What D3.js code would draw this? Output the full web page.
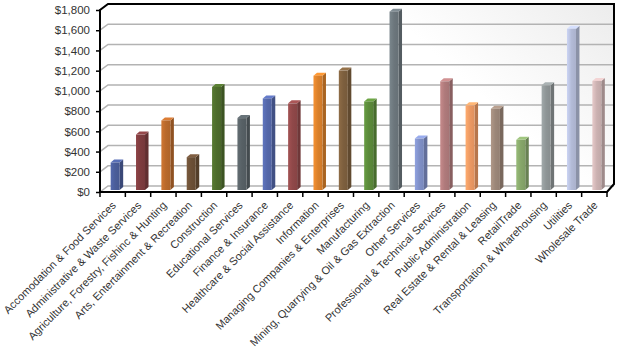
<!DOCTYPE html>
<html><head><meta charset="utf-8">
<script src="https://cdnjs.cloudflare.com/ajax/libs/d3/7.8.5/d3.min.js"></script>
<style>html,body{margin:0;padding:0;background:#fff;}svg{display:block;}</style>
</head><body>
<svg id="c" width="620" height="357"></svg>
<script>
const categories = ["Accomodation & Food Services","Administrative & Waste Services","Agriculture, Forestry, Fishinc & Hunting","Arts, Entertainment & Recreation","Construction","Educational Services","Finance & Insurance","Healthcare & Social Assistance","Information","Managing Companies & Enterprises","Manufacturing","Mining, Quarrying & Oil & Gas Extraction","Other Services","Professional & Technical Services","Public Administration","Real Estate & Rental & Leasing","RetailTrade","Transportation & Wharehousing","Utilities","Wholesale Trade"];
const values = [272, 548, 688, 325, 1019, 711, 906, 857, 1131, 1181, 876, 1764, 509, 1075, 837, 804, 496, 1035, 1595, 1079];
const colors = ["#4a5d99","#7d3b3e","#b8692c","#6b4f36","#4d6c2c","#576065","#5467a9","#8f4849","#d9802b","#7d5f3e","#5b8a3a","#6c767c","#7f8fc6","#af7a7b","#eb9862","#9b8678","#86a66a","#8e9596","#b3bbd7","#cbb1b1"];
const yTicks = [0,200,400,600,800,1000,1200,1400,1600,1800];

const svg = d3.select("#c");
const x0 = 100, x1 = 607, yB = 192, yT = 10;
const dX = 8, dY = -6;       // back wall offset
const bX = 2.5, bY = -2;     // bar depth offset
const x = d3.scaleBand().domain(categories).range([x0, x1]).padding(0);
const y = d3.scaleLinear().domain([0,1800]).range([yB, yT]);

const defs = svg.append("defs");
const wg = defs.append("linearGradient").attr("id","wall").attr("x1","0").attr("x2","1").attr("y1","0.4").attr("y2","0");
wg.append("stop").attr("offset","0.6").attr("stop-color","#ffffff");
wg.append("stop").attr("offset","1").attr("stop-color","#ececec");

svg.append("rect").attr("x", x0+dX).attr("y", y(1800)+dY).attr("width", 614-(x0+dX)).attr("height", y(0)-y(1800)).attr("fill","url(#wall)");

const grid = svg.append("g");
yTicks.slice(0,-1).forEach(v => {
  grid.append("path").attr("d", `M${x0},${y(v)}L${x0+dX},${y(v)+dY}L614,${y(v)+dY}`)
    .attr("fill","none").attr("stroke","#b3b3b3").attr("stroke-width",1.5);
});

const barW = 9, sideW = 3.5, topH = 3;
const gBars = svg.append("g");
categories.forEach((c,i) => {
  const col = d3.color(colors[i]);
  const gid = "g"+i;
  const lg = defs.append("linearGradient").attr("id",gid).attr("x1","0").attr("x2","1");
  lg.append("stop").attr("offset","0").attr("stop-color", col.brighter(0.35));
  lg.append("stop").attr("offset","0.5").attr("stop-color", col);
  lg.append("stop").attr("offset","1").attr("stop-color", col.darker(0.15));
  const fx = x(c) + x.bandwidth()/2 + bX - 4.5;
  const top = y(values[i]) + bY, bot = y(0) + bY;
  gBars.append("path").attr("d", `M${fx+barW},${top}L${fx+barW+sideW},${top-topH}L${fx+barW+sideW},${bot-topH}L${fx+barW},${bot}Z`)
    .attr("fill", col.darker(0.7));
  gBars.append("path").attr("d", `M${fx},${top}L${fx+sideW},${top-topH}L${fx+barW+sideW},${top-topH}L${fx+barW},${top}Z`)
    .attr("fill", col.brighter(0.5));
  gBars.append("rect").attr("x", fx).attr("y", top).attr("width", barW).attr("height", bot-top)
    .attr("fill", `url(#${gid})`);
});

const frame = svg.append("g").attr("fill","none").attr("stroke","#000").attr("stroke-width",2);
frame.append("path").attr("d", `M${x0},${yB}L${x0},${y(1800)}L${x0+dX},${y(1800)+dY}L614,${y(1800)+dY}L614,${yB-8}L${x1},${yB}Z`);

const ya = svg.append("g").attr("transform", `translate(${x0},0)`)
  .call(d3.axisLeft(y).tickValues(yTicks).tickSize(4).tickPadding(6).tickFormat(d => "$" + d3.format(",")(d)));
ya.select(".domain").remove();
ya.selectAll("line").attr("stroke","#000").attr("stroke-width",1.5);
ya.selectAll("text").attr("font-family","Liberation Sans, Arial, sans-serif").attr("font-size","11.5px").attr("fill","#333");

const xa = svg.append("g").attr("transform", `translate(0,${yB})`);
d3.range(categories.length+1).forEach(i => {
  const xx = i < categories.length ? x(categories[i]) : x1;
  xa.append("line").attr("x1", xx).attr("x2", xx).attr("y1", 0).attr("y2", 5).attr("stroke","#000").attr("stroke-width",1.5);
});
categories.forEach(c => {
  const cx = x(c) + x.bandwidth()/2;
  xa.append("text").attr("transform", `translate(${cx+4},${14}) rotate(-45)`)
    .attr("text-anchor","end")
    .attr("font-family","Liberation Sans, Arial, sans-serif").attr("font-size","11px").attr("fill","#333")
    .text(c);
});
</script>
</body></html>
